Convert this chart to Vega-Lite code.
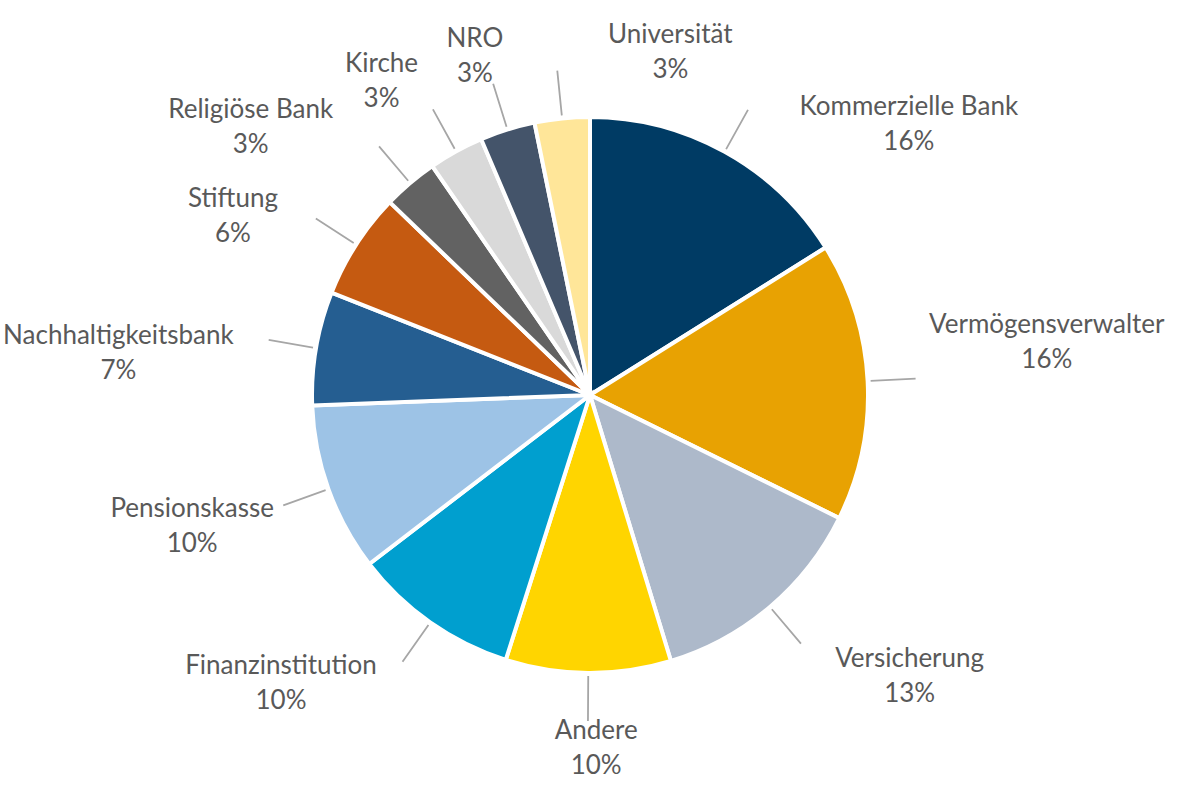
{
  "$schema": "https://vega.github.io/schema/vega-lite/v6.json",
  "width": 1180,
  "height": 790,
  "autosize": "none",
  "padding": 0,
  "background": "white",
  "data": {
    "values": [
      {"rank": 1, "name": "Kommerzielle Bank", "value": 16.1},
      {"rank": 2, "name": "Vermögensverwalter", "value": 16.2},
      {"rank": 3, "name": "Versicherung", "value": 13.0},
      {"rank": 4, "name": "Andere", "value": 9.6},
      {"rank": 5, "name": "Finanzinstitution", "value": 9.7},
      {"rank": 6, "name": "Pensionskasse", "value": 9.8},
      {"rank": 7, "name": "Nachhaltigkeitsbank", "value": 6.6},
      {"rank": 8, "name": "Stiftung", "value": 6.2},
      {"rank": 9, "name": "Religiöse Bank", "value": 3.2},
      {"rank": 10, "name": "Kirche", "value": 3.2},
      {"rank": 11, "name": "NRO", "value": 3.2},
      {"rank": 12, "name": "Universität", "value": 3.2}
    ]
  },
  "encoding": {
    "theta": {"field": "value", "type": "quantitative", "stack": true},
    "order": {"field": "rank", "type": "quantitative"}
  },
  "layer": [
    {
      "mark": {"type": "arc", "outerRadius": 278, "stroke": "white", "strokeWidth": 4},
      "encoding": {
        "color": {
          "field": "name",
          "type": "nominal",
          "sort": null,
          "legend": null,
          "scale": {
            "domain": ["Kommerzielle Bank", "Vermögensverwalter", "Versicherung", "Andere", "Finanzinstitution", "Pensionskasse", "Nachhaltigkeitsbank", "Stiftung", "Religiöse Bank", "Kirche", "NRO", "Universität"],
            "range": ["#003B64", "#E8A202", "#ADB9CA", "#FFD500", "#009FCF", "#9DC3E6", "#255E91", "#C55A11", "#626262", "#D9D9D9", "#44546A", "#FFE699"]
          }
        }
      }
    },
    {
      "mark": {"type": "arc", "innerRadius": 281, "outerRadius": 326, "padAngle": 3.1, "filled": false, "stroke": "#A6A6A6", "strokeWidth": 1.8}
    },
    {
      "mark": {
        "type": "text",
        "font": "Lato",
        "fontSize": 26,
        "color": "#595959",
        "lineHeight": 35,
        "align": "center",
        "baseline": "middle",
        "dy": -17.5,
        "radius": {"expr": "328 + 1.17*max(6.4*length(datum.name), 23)*abs(sin(scale('layer_2_theta', 0.5*datum.value_start + 0.5*datum.value_end))) + 18*abs(cos(scale('layer_2_theta', 0.5*datum.value_start + 0.5*datum.value_end))) - 6*cos(scale('layer_2_theta', 0.5*datum.value_start + 0.5*datum.value_end)) - 15*sin(2*scale('layer_2_theta', 0.5*datum.value_start + 0.5*datum.value_end))"},
        "text": {"expr": "[datum.name, format(datum.value, '.0f') + '%']"}
      },
      "encoding": {
        "theta": {
          "field": "value",
          "type": "quantitative",
          "stack": true,
          "scale": {
            "type": "linear",
            "nice": false,
            "zero": false,
            "domain": [0, 8.05, 24.2, 38.8, 50.1, 59.75, 69.5, 77.7, 84.1, 88.8, 92.0, 95.2, 98.4, 100],
            "range": [0, 0.8674, 1.4556, 2.2934, 3.1241, 3.9619, 4.393, 4.7997, 5.1749, 5.3808, 5.6967, 5.9551, 6.5136, 6.6323]
          }
        }
      }
    }
  ],
  "resolve": {"scale": {"theta": "independent"}}
}
